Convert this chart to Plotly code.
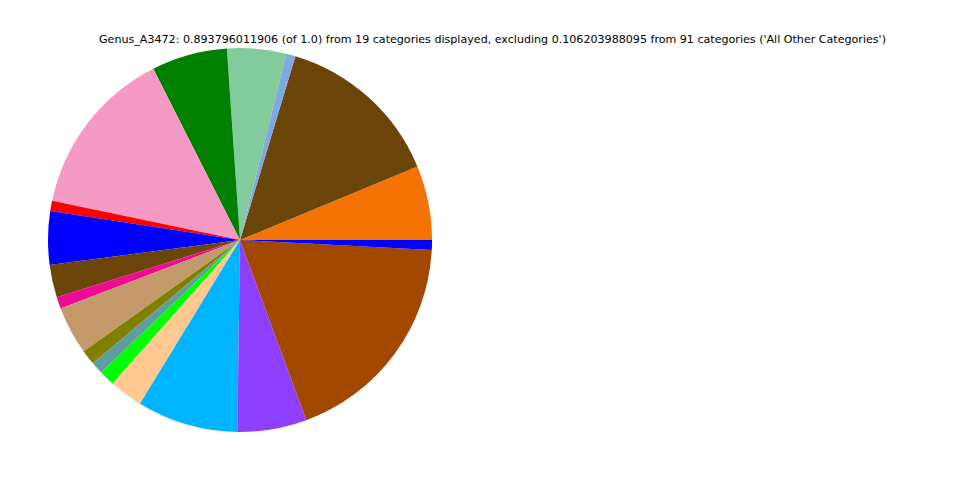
import plotly.graph_objects as go

categories = [
    "Category_01", "Category_02", "Category_03", "Category_04", "Category_05",
    "Category_06", "Category_07", "Category_08", "Category_09", "Category_10",
    "Category_11", "Category_12", "Category_13", "Category_14", "Category_15",
    "Category_16", "Category_17", "Category_18", "Category_19",
]
values = [
    0.0559, 0.1259, 0.0070, 0.0444, 0.0569,
    0.1274, 0.0077, 0.0402, 0.0246, 0.0087,
    0.0362, 0.0112, 0.0092, 0.0117, 0.0253,
    0.0760, 0.0521, 0.1659, 0.0074,
]
colors = [
    "#f47304", "#6b4409", "#7faadf", "#82cb9c", "#007f00",
    "#f49ac4", "#ff0000", "#0000ff", "#6b4409", "#ee0a92",
    "#c49a6b", "#7f7f00", "#5f9ea0", "#00ff00", "#ffc98f",
    "#00b4ff", "#8e3fff", "#a24700", "#0000ff",
]
title_text = ("Genus_A3472: 0.893796011906 (of 1.0) from 19 categories displayed, "
              "excluding 0.106203988095 from 91 categories ('All Other Categories')")

# first slice should start at 3 o'clock and run counterclockwise
first_deg = values[0] / sum(values) * 360
rotation = 90 - first_deg

W, H = 960, 480
off = 8  # page body margin

fig = go.Figure(go.Pie(
    labels=categories,
    values=values,
    marker=dict(colors=colors, line=dict(width=0)),
    sort=False,
    direction="counterclockwise",
    rotation=rotation,
    textinfo="none",
    hoverinfo="label+value",
    domain=dict(x=[(48 - off) / W, (432 - off) / W],
                y=[(H - (432 - off)) / H, (H - (48 - off)) / H]),
    showlegend=False,
))

fig.update_layout(
    width=W, height=H,
    margin=dict(l=0, r=0, t=0, b=0),
    paper_bgcolor="white", plot_bgcolor="white",
    showlegend=False,
    annotations=[dict(
        text=title_text, xref="paper", yref="paper",
        x=(492 - off) / W, y=1 - (40 - off) / H, xanchor="center", yanchor="middle",
        showarrow=False, font=dict(family="DejaVu Sans", size=11.1, color="black"),
    )],
)

fig.write_html("out.html")
